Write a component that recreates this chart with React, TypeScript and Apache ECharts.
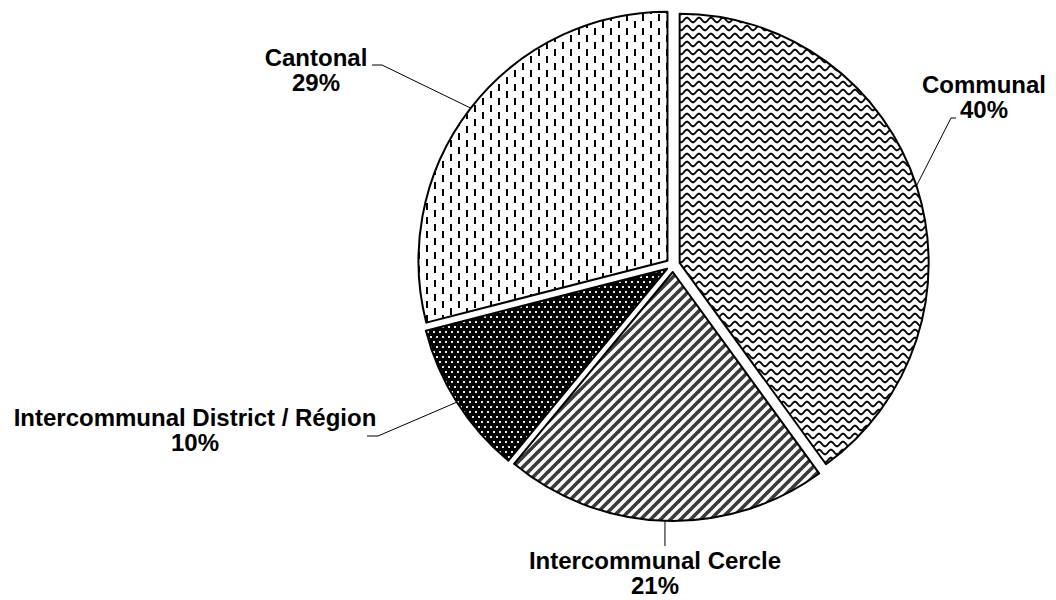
import React, { useEffect, useRef } from 'react';
import * as echarts from 'echarts';

// ---- data ----
const categories = ['Communal', 'Intercommunal Cercle', 'Intercommunal District / Région', 'Cantonal'];
const shares = [40, 21, 10, 29];

// ---- layout constants ----
const CENTER = [673, 265];
const RADIUS = 249;
const OFFSET = 7;
const labelCenters = [
  [984, 97],
  [655, 573],
  [195, 430],
  [316, 70],
];
// null x means: keep the x of the line's start point (vertical leader)
const labelLineEnds: (number | null)[][][] = [
  [[951, 118], [956, 118]],
  [[null, 546], [null, 546]],
  [[378, 436], [367, 436]],
  [[382, 65], [372, 65]],
];

function makeTile(w: number, h: number, bg: string, draw: (ctx: CanvasRenderingContext2D) => void) {
  const c = document.createElement('canvas');
  c.width = w;
  c.height = h;
  const ctx = c.getContext('2d') as CanvasRenderingContext2D;
  ctx.fillStyle = bg;
  ctx.fillRect(0, 0, w, h);
  draw(ctx);
  return { image: c, repeat: 'repeat', imageWidth: w, imageHeight: h } as any;
}

function buildPatterns() {
  const wave = makeTile(12, 8, '#fff', (ctx) => {
    ctx.strokeStyle = '#000';
    ctx.lineWidth = 1.9;
    ctx.beginPath();
    for (let x = -1; x <= 13; x += 0.5) {
      const y = 4 - 2.3 * Math.sin((2 * Math.PI * x) / 12);
      if (x === -1) ctx.moveTo(x, y);
      else ctx.lineTo(x, y);
    }
    ctx.stroke();
  });
  const stripes = makeTile(10, 10, '#fff', (ctx) => {
    ctx.strokeStyle = '#3a3a3a';
    ctx.lineWidth = 3.6;
    const P = 10;
    for (const c of [0, P, 2 * P]) {
      ctx.beginPath();
      ctx.moveTo(c + 2, -2);
      ctx.lineTo(c - P - 2, P + 2);
      ctx.stroke();
    }
  });
  const dots = makeTile(6, 10, '#000', (ctx) => {
    ctx.fillStyle = '#e8e8e8';
    ctx.fillRect(1, 1, 2, 2);
    ctx.fillRect(4, 6, 2, 2);
  });
  const dashes = makeTile(16, 14, '#fff', (ctx) => {
    ctx.fillStyle = '#000';
    ctx.fillRect(2, 0, 2, 7);
    ctx.fillRect(10, 7, 2, 7);
  });
  return [wave, stripes, dots, dashes];
}

export default function App() {
  const ref = useRef<HTMLDivElement>(null);
  useEffect(() => {
    if (!ref.current) return;
    const chart = echarts.init(ref.current, null, { renderer: 'svg' });
    const patterns = buildPatterns();
    const total = shares.reduce((a, b) => a + b, 0);
    const midAngles: number[] = [];
    let acc = 0;
    shares.forEach((v) => {
      midAngles.push(((acc + v / 2) / total) * 2 * Math.PI);
      acc += v;
    });

    // one series per slice so each slice can be pulled out along its own bisector
    const series = categories.map((_, i) => {
      const a = midAngles[i];
      const cx = CENTER[0] + OFFSET * Math.sin(a);
      const cy = CENTER[1] - OFFSET * Math.cos(a);
      return {
        type: 'pie',
        center: [cx, cy],
        radius: RADIUS,
        startAngle: 90,
        clockwise: true,
        silent: true,
        avoidLabelOverlap: false,
        emphasis: { disabled: true },
        label: {
          show: false,
          position: 'outside',
          formatter: (p: any) => `${p.name}\n${Math.round(p.percent)}%`,
          fontFamily: '"Liberation Sans", Arial, sans-serif',
          fontWeight: 'bold',
          fontSize: 24,
          lineHeight: 25,
          color: '#000',
          align: 'center',
        },
        labelLine: { show: false, lineStyle: { color: '#000', width: 1 } },
        labelLayout: (params: any) => {
          const j = params.dataIndex;
          const r = RADIUS;
          const p0 = [cx + r * Math.sin(midAngles[j]), cy - r * Math.cos(midAngles[j])];
          const pts = labelLineEnds[j].map((p) => [p[0] == null ? p0[0] : p[0], p[1] as number]);
          return {
            x: labelCenters[j][0],
            y: labelCenters[j][1],
            align: 'center',
            verticalAlign: 'middle',
            labelLinePoints: [p0, pts[0], pts[1]],
          };
        },
        data: categories.map((name, j) => ({
          name,
          value: shares[j],
          itemStyle:
            j === i
              ? { color: patterns[j], borderColor: '#000', borderWidth: 2 }
              : { color: 'rgba(0,0,0,0)', borderWidth: 0 },
          label: { show: j === i },
          labelLine: { show: j === i },
        })),
      };
    });

    chart.setOption({
      animation: false,
      backgroundColor: '#fff',
      series,
    });
    return () => chart.dispose();
  }, []);
  return (
    <div
      ref={ref}
      style={{ position: 'fixed', left: 0, top: 0, width: 1056, height: 600, background: '#fff' }}
    />
  );
}
